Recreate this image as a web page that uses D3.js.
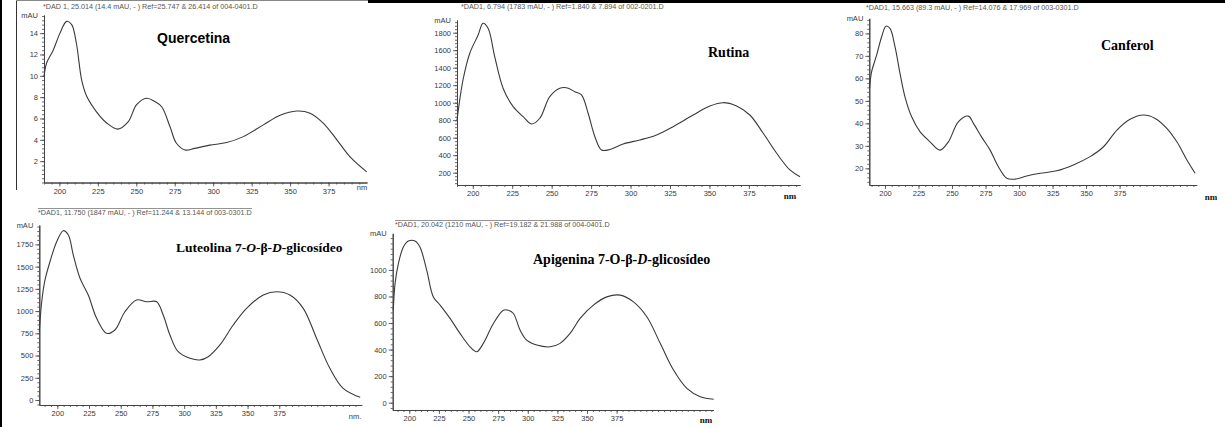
<!DOCTYPE html>
<html><head><meta charset="utf-8">
<script src="https://cdn.jsdelivr.net/npm/d3@7"></script>
<style>body{margin:0;background:#fff}svg{display:block}</style>
</head><body>
<svg id="c" width="1225" height="427"></svg>
<script>
// ---------- data ----------
const xTickValues = [200,225,250,275,300,325,350,375];

const querWl  = [190,191.7,196,200.4,204.7,208,211,214.5,217.7,224,230.6,238,244.8,250.2,256.7,262,266.5,272,276,281.7,288,297.8,308.8,319.6,332.6,343.5,354.3,363,371.7,380.4,389,399.8];
const querAbs = [9.9,11.2,12.4,14,15.1,14.8,13.1,9.6,8.1,6.65,5.6,5.0,5.7,7.3,7.9,7.6,7.1,5.2,3.7,3.05,3.2,3.5,3.75,4.3,5.4,6.3,6.7,6.5,5.55,4.0,2.4,1.0];
const querYTicks = [2,4,6,8,10,12,14];

const rutWl  = [190,193.8,198.1,203.4,206.5,209.7,213.9,219.2,225.6,231.9,237.2,242.5,248.8,255.2,259.4,264.7,268.9,273.1,277.4,281.6,286.9,295.3,305.9,316.5,327,339.7,350.3,358.7,367.2,375.6,384.1,392.6,401,407.4];
const rutAbs = [800,1259,1565,1774,1907,1850,1526,1165,954,840,757,822,1069,1165,1170,1126,1088,879,611,459,465,528,574,631,726,859,962,1000,962,859,650,422,231,154];
const rutYTicks = [200,400,600,800,1000,1200,1400,1600,1800];

const canWl  = [188.5,190,193.8,197.5,200.7,203.7,207.5,211.2,214.9,219.9,226.1,233.6,241,247.3,254.7,262.2,266,272,278.4,284.6,290.8,297,305.7,315.7,328.1,340.5,353,363,373,382.8,392.8,401.5,410.2,417.7,425.2,431.3];
const canAbs = [55.6,62.9,70.4,78.5,83.2,82.2,74,62.2,51.8,42.9,36.3,31.8,28.1,31.8,40.7,43.2,40,34,28.1,20.7,15.6,15.2,16.6,17.8,18.9,21.5,25.2,29.6,37,41.8,43.7,42.2,37.8,31.8,23.7,17.8];
const canYTicks = [20,30,40,50,60,70,80];

const lutWl  = [185.8,187.7,190.3,194.2,199.5,204.7,208.7,212.6,217.9,224.4,231,238.9,245.4,253.3,262.5,270.4,278.3,283.5,288.8,295.3,304.6,312.4,319,328.2,338.7,349.2,362.4,372.9,383.4,393.9,404.4,414.9,425.4,438.8];
const lutAbs = [768,1105,1350,1555,1780,1904,1855,1630,1369,1181,919,750,787,993,1125,1105,1105,956,731,543,469,450,487,619,843,1031,1181,1218,1181,1031,694,356,131,30];
const lutYTicks = [0,250,500,750,1000,1250,1500,1750];

const apiWl  = [186.5,188,190.8,195,199.2,204.8,209,214.7,220.3,226,234.4,242.8,251.3,256.9,262.5,271,279.4,283.6,287.9,293.5,299.1,307.6,318.9,327.3,335.7,344.2,355.4,366.7,378,389.2,400.5,411.8,423,434.3,445.6,456.9];
const apiAbs = [697,898,1048,1173,1218,1218,1173,998,797,735,635,522,421,384,447,597,697,697,672,547,471,434,421,447,522,635,735,797,810,759,647,447,246,108,45,26];
const apiYTicks = [0,200,400,600,800,1000];

const headerTexts = [
  "*DAD 1, 25.014 (14.4 mAU, - ) Ref=25.747 & 26.414 of 004-0401.D",
  "*DAD1, 6.794 (1783 mAU, - ) Ref=1.840 & 7.894 of 002-0201.D",
  "*DAD1, 15.663 (89.3 mAU, - ) Ref=14.076 & 17.969 of 003-0301.D",
  "*DAD1, 11.750 (1847 mAU, - ) Ref=11.244 & 13.144 of 003-0301.D",
  "*DAD1, 20.042 (1210 mAU, - ) Ref=19.182 & 21.988 of 004-0401.D"
];
// title pieces: [text, italic]
const titleQuer = [["Quercetina",false]];
const titleRut  = [["Rutina",false]];
const titleCan  = [["Canferol",false]];
const titleLut  = [["Luteolina 7-",false],["O",true],["-β-",false],["D",true],["-glicosídeo",false]];
const titleApi  = [["Apigenina 7-O-β-",false],["D",true],["-glicosídeo",false]];

// ---------- drawing ----------
const svg = d3.select('#c');
const AX = '#444', TXT = '#3a3a3a';
const SANS = 'Liberation Sans, Arial, sans-serif';
const SERIF = 'Liberation Serif, Times New Roman, serif';

// frame lines
svg.append('rect').attr('x',0).attr('y',0).attr('width',2).attr('height',427).attr('fill','#000');
svg.append('line').attr('x1',16.5).attr('x2',16.5).attr('y1',0).attr('y2',190).attr('stroke','#333').attr('stroke-width',1);
svg.append('line').attr('x1',16).attr('x2',368).attr('y1',0.5).attr('y2',0.5).attr('stroke','#888').attr('stroke-width',1);
svg.append('rect').attr('x',368).attr('y',0).attr('width',857).attr('height',3).attr('fill','#000');

function panel(o){
  const x = d3.scaleLinear().domain(o.xDom).range([o.x0, o.x1]);
  const y = d3.scaleLinear().domain(o.yDom).range([o.yb, o.yt]);
  const g = svg.append('g');
  const fmt = d3.format('d');

  // x axis minor
  const xm = d3.range(Math.ceil(o.xDom[0]/5)*5, o.xDom[1], 5);
  g.append('g').attr('transform',`translate(0,${o.yb})`)
    .call(d3.axisBottom(x).tickValues(xm).tickSize(2).tickSizeOuter(0).tickFormat(''));
  // x axis major
  g.append('g').attr('transform',`translate(0,${o.yb})`)
    .call(d3.axisBottom(x).tickValues(xTickValues).tickSize(4).tickSizeOuter(0).tickPadding(2).tickFormat(fmt));
  // y axis minor
  const st = (o.yTicks[1]-o.yTicks[0])/5;
  const ym = d3.range(Math.ceil(o.yDom[0]/st)*st, o.yDom[1], st);
  g.append('g').attr('transform',`translate(${o.x0},0)`)
    .call(d3.axisLeft(y).tickValues(ym).tickSize(2).tickSizeOuter(0).tickFormat(''));
  g.append('g').attr('transform',`translate(${o.x0},0)`)
    .call(d3.axisLeft(y).tickValues(o.yTicks).tickSize(4).tickSizeOuter(0).tickPadding(2).tickFormat(fmt));

  g.selectAll('.domain').attr('stroke',AX).attr('stroke-width',1);
  g.selectAll('.tick line').attr('stroke',AX).attr('stroke-width',0.8);
  g.selectAll('.tick text').attr('fill',TXT).style('font-family',SANS).style('font-size','7.5px');

  // mAU
  g.append('text').attr('x',o.x0-6).attr('y',o.yt+3).attr('text-anchor','end')
    .attr('fill',TXT).style('font-family',SANS).style('font-size','7.5px').text('mAU');
  // nm
  const nm = g.append('text').attr('x',o.nmX).attr('y',o.nmY).attr('text-anchor','middle').text(o.nmText);
  if (o.nmBold) nm.attr('fill','#111').style('font-family',SERIF).style('font-size','9px').style('font-weight','bold');
  else nm.attr('fill',TXT).style('font-family',SANS).style('font-size','7.5px');

  // header
  if (o.hLine) g.append('line').attr('x1',o.hLine[0]).attr('x2',o.hLine[1]).attr('y1',o.hLine[2]).attr('y2',o.hLine[2]).attr('stroke','#777').attr('stroke-width',0.8);
  g.append('text').attr('x',o.hX).attr('y',o.hY).attr('fill','#555')
    .style('font-family',SANS).style('font-size','7.2px').text(o.header);

  // curve
  const pts = o.wl.map((w,i)=>[w,o.abs[i]]);
  g.append('path').datum(pts).attr('fill','none').attr('stroke','#3a3a3a').attr('stroke-width',1.1)
    .attr('d', d3.line().x(d=>x(d[0])).y(d=>y(d[1])).curve(d3.curveCatmullRom.alpha(0.5)));

  // title
  const t = g.append('text').attr('x',o.tX).attr('y',o.tY).attr('fill','#000')
    .style('font-family', o.tSans ? SANS : SERIF)
    .style('font-size', o.tSize+'px').style('font-weight','bold');
  o.title.forEach(([s,it])=>{ t.append('tspan').style('font-style', it?'italic':'normal').text(s); });
}

panel({wl:querWl, abs:querAbs, yTicks:querYTicks, xDom:[190,400], yDom:[0,15.7],
  x0:44, x1:367, yb:182.5, yt:15, nmX:362, nmY:190, nmText:'nm', nmBold:false,
  header:headerTexts[0], hX:43, hY:9, title:titleQuer, tX:157, tY:43, tSize:14, tSans:true});
panel({wl:rutWl, abs:rutAbs, yTicks:rutYTicks, xDom:[190,407.4], yDom:[59,1945],
  x0:457, x1:800, yb:185, yt:20, nmX:790, nmY:199, nmText:'nm', nmBold:true,
  header:headerTexts[1], hX:461, hY:9, title:titleRut, tX:708, tY:57, tSize:14});
panel({wl:canWl, abs:canAbs, yTicks:canYTicks, xDom:[188.3,432.5], yDom:[12.6,86.7],
  x0:869.3, x1:1196.7, yb:185, yt:18.3, nmX:1211, nmY:200, nmText:'nm', nmBold:true,
  header:headerTexts[2], hX:866, hY:10, title:titleCan, tX:1101, tY:50, tSize:14});
panel({wl:lutWl, abs:lutAbs, yTicks:lutYTicks, xDom:[185.8,440], yDom:[-56,1968],
  x0:39.3, x1:361.7, yb:405, yt:225, nmX:355, nmY:419, nmText:'nm.', nmBold:false,
  header:headerTexts[3], hX:38, hY:215, hLine:[38,252,208.5], title:titleLut, tX:176, tY:252, tSize:13.5});
panel({wl:apiWl, abs:apiAbs, yTicks:apiYTicks, xDom:[186,456.6], yDom:[-55,1276],
  x0:392.7, x1:713.3, yb:410, yt:233.3, nmX:706, nmY:423, nmText:'nm', nmBold:true,
  header:headerTexts[4], hX:395, hY:227, hLine:[395,602,220.5], title:titleApi, tX:533, tY:264, tSize:14});
</script>
</body></html>
